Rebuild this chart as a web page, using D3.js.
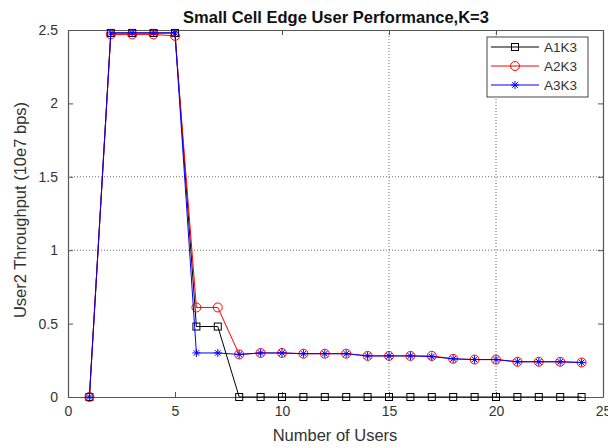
<!DOCTYPE html>
<html><head><meta charset="utf-8">
<script src="https://cdn.jsdelivr.net/npm/d3@7"></script>
<style>body{margin:0;background:#fff}svg{display:block;font-family:"Liberation Sans",Arial,sans-serif}</style>
</head><body><svg id="c" width="608" height="448"></svg>
<script>
const users = [1,2,3,4,5,6,7,8,9,10,11,12,13,14,15,16,17,18,19,20,21,22,23,24];
const a1k3 = [0,2.48,2.48,2.48,2.48,0.48,0.48,0,0,0,0,0,0,0,0,0,0,0,0,0,0,0,0,0];
const a2k3 = [0,2.47,2.47,2.47,2.46,0.61,0.61,0.29,0.30,0.30,0.295,0.295,0.295,0.28,0.28,0.28,0.28,0.26,0.255,0.255,0.24,0.24,0.24,0.235];
const a3k3 = [0,2.48,2.48,2.48,2.48,0.30,0.30,0.29,0.30,0.30,0.295,0.295,0.295,0.28,0.28,0.28,0.275,0.26,0.255,0.255,0.24,0.24,0.24,0.235];
const seriesNames = ["A1K3","A2K3","A3K3"];
const xTicks = [0,5,10,15,20,25];
const yTicks = [0,0.5,1,1.5,2,2.5];
const xGrid = [15,20];
const yGrid = [1,1.5];

const svg = d3.select("#c");
const L=68,R=603,T=30,B=397;
const x = d3.scaleLinear().domain([0,25]).range([L,R]);
const y = d3.scaleLinear().domain([0,2.5]).range([B,T]);
const txt="#333";

// grid
svg.append("g").selectAll("line").data(xGrid).join("line")
  .attr("x1",d=>x(d)).attr("x2",d=>x(d)).attr("y1",T).attr("y2",B)
  .attr("stroke","#444").attr("stroke-width",0.8).attr("stroke-dasharray","1,2");
svg.append("g").selectAll("line").data(yGrid).join("line")
  .attr("y1",d=>y(d)).attr("y2",d=>y(d)).attr("x1",L).attr("x2",R)
  .attr("stroke","#444").attr("stroke-width",0.8).attr("stroke-dasharray","1,2");

// axes
const fmt = d=>String(d);
const gx = svg.append("g").attr("transform",`translate(0,${B})`)
  .call(d3.axisBottom(x).tickValues(xTicks).tickFormat(fmt).tickSizeInner(-5).tickSizeOuter(0).tickPadding(9));
const gxt = svg.append("g").attr("transform",`translate(0,${T})`)
  .call(d3.axisTop(x).tickValues(xTicks).tickFormat("").tickSizeInner(-5).tickSizeOuter(0));
const gy = svg.append("g").attr("transform",`translate(${L},0)`)
  .call(d3.axisLeft(y).tickValues(yTicks).tickFormat(fmt).tickSizeInner(-5).tickSizeOuter(0).tickPadding(10));
const gyr = svg.append("g").attr("transform",`translate(${R},0)`)
  .call(d3.axisRight(y).tickValues(yTicks).tickFormat("").tickSizeInner(-5).tickSizeOuter(0));
[gx,gxt,gy,gyr].forEach(g=>{
  g.selectAll("path").attr("stroke","#555").attr("stroke-width",1.2);
  g.selectAll("line").attr("stroke","#555");
  g.selectAll("text").attr("fill",txt).attr("font-size",14).attr("font-family","Liberation Sans, Arial, sans-serif");
});

const line = d3.line().x((d,i)=>x(users[i])).y(d=>y(d));
const series = [
  {name:seriesNames[0],vals:a1k3,color:"#000",marker:"square"},
  {name:seriesNames[1],vals:a2k3,color:"#ff0000",marker:"circle"},
  {name:seriesNames[2],vals:a3k3,color:"#0000ff",marker:"star"}
];
function drawMarker(g,type,cx,cy,color){
  if(type==="square"){
    g.append("rect").attr("x",cx-3.5).attr("y",cy-3.5).attr("width",7).attr("height",7)
      .attr("fill","none").attr("stroke",color).attr("stroke-width",1);
  } else if(type==="circle"){
    g.append("circle").attr("cx",cx).attr("cy",cy).attr("r",4.5)
      .attr("fill","none").attr("stroke",color).attr("stroke-width",1);
  } else {
    const s=4;
    const p=`M${cx-s},${cy}L${cx+s},${cy}M${cx},${cy-s}L${cx},${cy+s}M${cx-s*0.7},${cy-s*0.7}L${cx+s*0.7},${cy+s*0.7}M${cx-s*0.7},${cy+s*0.7}L${cx+s*0.7},${cy-s*0.7}`;
    g.append("path").attr("d",p).attr("stroke",color).attr("stroke-width",1).attr("fill","none");
  }
}
series.forEach(s=>{
  const g=svg.append("g");
  g.append("path").attr("d",line(s.vals)).attr("fill","none").attr("stroke",s.color).attr("stroke-width",1);
  s.vals.forEach((v,i)=>drawMarker(g,s.marker,x(users[i]),y(v),s.color));
});

// legend
const lg = svg.append("g");
lg.append("rect").attr("x",487).attr("y",37).attr("width",101).attr("height",60)
  .attr("fill","#fff").attr("stroke","#444").attr("stroke-width",1);
series.forEach((s,i)=>{
  const yy=47+i*19;
  lg.append("line").attr("x1",491).attr("x2",539).attr("y1",yy).attr("y2",yy).attr("stroke",s.color).attr("stroke-width",1);
  drawMarker(lg,s.marker,515,yy,s.color);
  lg.append("text").attr("x",544).attr("y",yy+5).attr("font-size",13.5).attr("fill",txt).text(s.name);
});

// title and labels
svg.append("text").attr("x",336).attr("y",23).attr("text-anchor","middle")
  .attr("font-size",16.5).attr("font-weight","bold").attr("fill","#111").text("Small Cell Edge User Performance,K=3");
svg.append("text").attr("x",335).attr("y",441).attr("text-anchor","middle")
  .attr("font-size",16.5).attr("fill",txt).text("Number of Users");
svg.append("text").attr("transform",`translate(26,210) rotate(-90)`).attr("text-anchor","middle")
  .attr("font-size",16.5).attr("fill",txt).text("User2 Throughput (10e7 bps)");
</script></body></html>
